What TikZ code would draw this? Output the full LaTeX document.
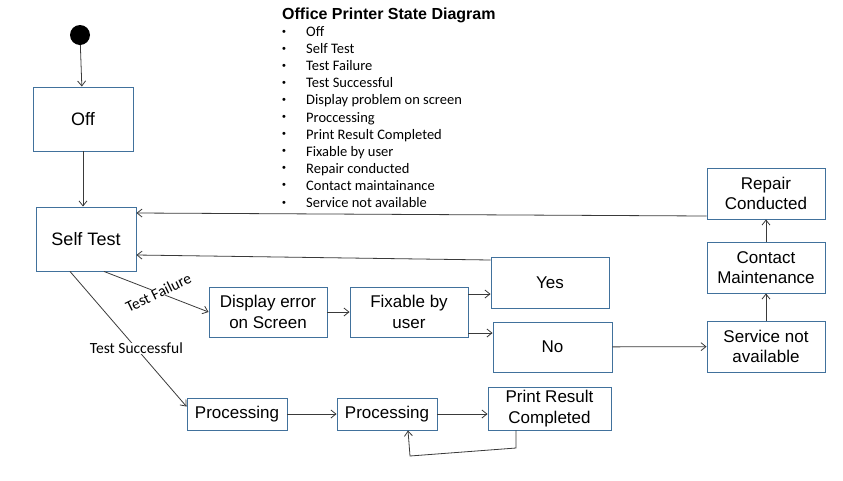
\documentclass[tikz,border=0pt]{standalone}
\usepackage{fontspec}
\setmainfont{Liberation Sans}
\newfontfamily\carlitofont{Carlito}
\usetikzlibrary{arrows.meta}
\definecolor{boxblue}{HTML}{41719C}
\definecolor{linec}{HTML}{3A3A3A}
\tikzset{
  x=1pt,y=-1pt,
  state/.style={draw=boxblue,line width=0.9pt,inner sep=0pt,align=center,
    font=\fontsize{17}{20.5}\selectfont},
  conn/.style={draw=linec,line width=0.8pt,-{Straight Barb[length=5pt,width=8pt]}},
  lbl/.style={font=\carlitofont\fontsize{15.5}{17}\selectfont,inner sep=0pt},
  bl/.style={font=\carlitofont\fontsize{14.5}{17}\selectfont,anchor=base west,inner sep=0pt},
  bul/.style={font=\fontsize{11}{12}\selectfont,anchor=base west,inner sep=0pt}
}
\begin{document}
\begin{tikzpicture}
\useasboundingbox (0,0) rectangle (843,480);
% title and list
\node[anchor=base west,inner sep=0pt,font=\bfseries\fontsize{16}{19}\selectfont] (title) at (282,19) {Office Printer State Diagram};
\foreach \t [count=\i from 0] in {Off,Self Test,Test Failure,Test Successful,Display problem on screen,Proccessing,Print Result Completed,Fixable by user,Repair conducted,Contact maintainance,Service not available}{
  \node[bul] (b\i) at (282,35+17.1*\i) {•};
  \node[bl] (t\i) at (306,36.5+17.1*\i) {\t};
}
% start
\node[circle,fill=black,minimum size=20pt,inner sep=0pt] (start) at (80,35) {};
% states
\node[state,minimum width=100pt,minimum height=64pt,font=\fontsize{18}{20}\selectfont] (off) at (83,119) {Off};
\node[state,minimum width=100pt,minimum height=64pt,font=\fontsize{18}{20}\selectfont] (self) at (86,239) {Self Test};
\node[state,minimum width=118pt,minimum height=50pt] (disp) at (268,312) {Display error\\on Screen};
\node[state,minimum width=118pt,minimum height=50pt] (fix) at (409,312) {Fixable by\\user};
\node[state,minimum width=118pt,minimum height=51pt] (yes) at (550,282.5) {Yes};
\node[state,minimum width=119pt,minimum height=50pt] (no) at (552.5,347) {No};
\node[state,minimum width=118pt,minimum height=51pt] (repair) at (766,193.5) {Repair\\Conducted};
\node[state,minimum width=118pt,minimum height=51pt] (contact) at (766,267.5) {Contact\\Maintenance};
\node[state,minimum width=118pt,minimum height=51pt] (service) at (766,346.5) {Service not\\available};
\node[state,minimum width=100pt,minimum height=32pt] (p1) at (237,414) {Processing};
\node[state,minimum width=100pt,minimum height=32pt] (p2) at (387,414) {Processing};
\node[state,minimum width=123pt,minimum height=43pt] (print) at (549.5,408.5) {Print Result\\Completed};
% connectors
\draw[conn] (start) -- (off);
\draw[conn] (off) -- (self.north -| off);
\draw[conn] ([yshift=-22.5pt]repair.west) -- ([yshift=26pt]self.east);
\draw[conn] ([yshift=22.5pt]yes.west) -- ([yshift=-16pt]self.east);
\draw[conn] ([xshift=18pt]self.south) -- node[lbl,rotate=26,fill=white,pos=0.52] (tf) {Test Failure} (disp.west);
\draw[conn] ([xshift=-16pt]self.south) -- node[lbl,fill=white,pos=0.57] (ts) {Test Successful} ([yshift=-9pt]p1.north west);
\draw[conn] (disp) -- (fix);
\draw[conn] ([yshift=18pt]fix.east) -- ([yshift=18pt]fix.east -| yes.west);
\draw[conn] ([yshift=-21pt]fix.east) -- ([yshift=-21pt]fix.east -| no.west);
\draw[conn] (no) -- (service);
\draw[conn] (service) -- (contact);
\draw[conn] (contact) -- (repair);
\draw[conn] (p1) -- (p2);
\draw[conn] (p2) -- (print.west |- p2);
\coordinate (l1) at (516,448);
\coordinate (l2) at (410,456);
\draw[conn] ([xshift=-33.5pt]print.south) -- (l1) -- (l2) -- ([xshift=21pt]p2.south);
\end{tikzpicture}
\end{document}
